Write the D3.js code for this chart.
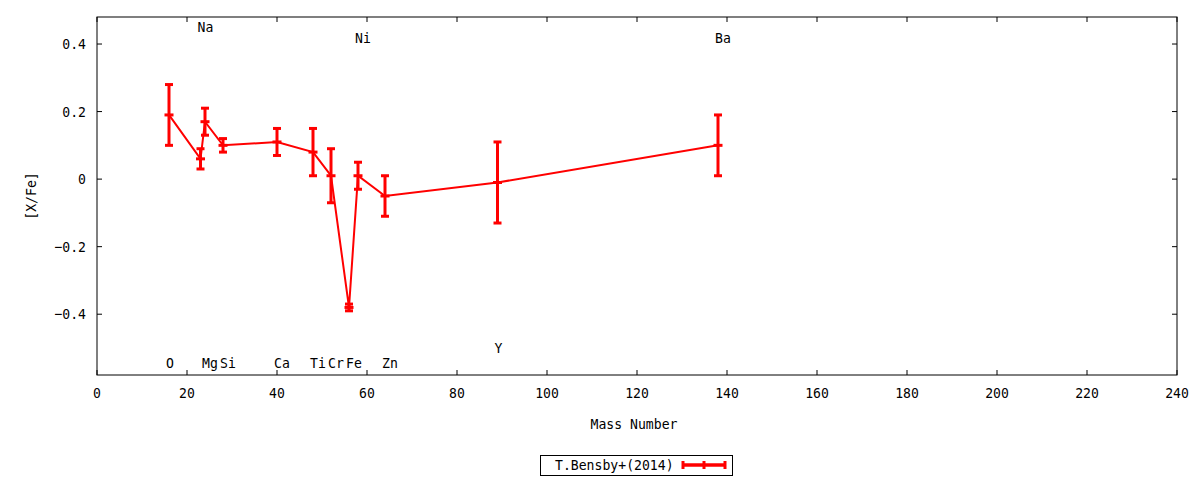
<!DOCTYPE html>
<html><head><meta charset="utf-8">
<script src="https://cdn.jsdelivr.net/npm/d3@7/dist/d3.min.js"></script>
<style>
html,body{margin:0;padding:0;background:#fff;}
text{font-family:"DejaVu Sans Mono",monospace;font-size:14.6px;fill:#000;}
</style></head>
<body>
<svg id="c" width="1200" height="480"></svg>
<script>
const elements = ["O","Na","Mg","Si","Ca","Ti","Cr","Fe","Ni","Zn","Y","Ba"];
const mass     = [16, 23, 24, 28, 40, 48, 52, 56, 58, 64, 89, 138];
const xfe      = [0.19, 0.06, 0.17, 0.10, 0.11, 0.08, 0.01, -0.38, 0.01, -0.05, -0.01, 0.10];
const err      = [0.09, 0.03, 0.04, 0.02, 0.04, 0.07, 0.08, 0.01, 0.04, 0.06, 0.12, 0.09];
const labelY   = [-0.545, 0.45, -0.545, -0.545, -0.545, -0.545, -0.545, -0.545, 0.42, -0.545, -0.50, 0.42];
const xTicks = [0,20,40,60,80,100,120,140,160,180,200,220,240];
const yTicks = [-0.4,-0.2,0,0.2,0.4];
const seriesName = "T.Bensby+(2014)";

const svg = d3.select("#c");
const L=97, R=1177, T=17, B=375;
const x = d3.scaleLinear().domain([0,240]).range([L,R]);
const y = d3.scaleLinear().domain([-0.58,0.48]).range([B,T]);
const red = "#ff0000";
const tick = 5;
const SX = 0.9;

function txt(px, py, s, anchor, rot){
  return svg.append("text")
    .attr("transform", `translate(${px},${py})` + (rot?` rotate(${rot})`:"") + ` scale(${SX},1)`)
    .attr("text-anchor", anchor||"start")
    .attr("dominant-baseline","central")
    .text(s);
}

// frame
svg.append("rect").attr("x",L).attr("y",T).attr("width",R-L).attr("height",B-T)
  .attr("fill","none").attr("stroke","#000").attr("stroke-width",1);

// ticks (mirrored, inward)
const g = svg.append("g").attr("stroke","#000").attr("stroke-width",1);
xTicks.forEach(v=>{
  g.append("line").attr("x1",x(v)).attr("x2",x(v)).attr("y1",B).attr("y2",B-tick);
  g.append("line").attr("x1",x(v)).attr("x2",x(v)).attr("y1",T).attr("y2",T+tick);
});
yTicks.forEach(v=>{
  g.append("line").attr("x1",L).attr("x2",L+tick).attr("y1",y(v)).attr("y2",y(v));
  g.append("line").attr("x1",R).attr("x2",R-tick).attr("y1",y(v)).attr("y2",y(v));
});
xTicks.forEach(v=>{ txt(x(v), 393, String(v), "middle"); });
yTicks.forEach(v=>{ txt(86, y(v), v===0?"0":d3.format(".1f")(v), "end"); });

// axis titles
txt(634, 424, "Mass Number", "middle");
txt(31, 196, "[X/Fe]", "middle", -90);

// data line
const pts = mass.map((m,i)=>[m,xfe[i]]);
svg.append("path").datum(pts)
  .attr("d", d3.line().x(d=>x(d[0])).y(d=>y(d[1])))
  .attr("fill","none").attr("stroke",red).attr("stroke-width",2);

// error bars
const eb = svg.append("g").attr("stroke",red).attr("stroke-width",3);
mass.forEach((m,i)=>{
  const cx=x(m), y1=y(xfe[i]+err[i]), y0=y(xfe[i]-err[i]), cy=y(xfe[i]);
  eb.append("line").attr("x1",cx).attr("x2",cx).attr("y1",y1).attr("y2",y0);
  eb.append("line").attr("x1",cx-4).attr("x2",cx+4).attr("y1",y1).attr("y2",y1);
  eb.append("line").attr("x1",cx-4).attr("x2",cx+4).attr("y1",y0).attr("y2",y0);
  eb.append("line").attr("x1",cx-4.5).attr("x2",cx+4.5).attr("y1",cy).attr("y2",cy);
});

// element labels
elements.forEach((e,i)=>{ txt(x(mass[i])-3, y(labelY[i]), e, "start"); });

// legend
svg.append("rect").attr("x",540.5).attr("y",455.5).attr("width",192).attr("height",20)
  .attr("fill","#fff").attr("stroke","#000").attr("stroke-width",1);
txt(555, 465, seriesName, "start");
const lg = svg.append("g").attr("stroke",red).attr("stroke-width",3.5);
lg.append("line").attr("x1",682).attr("x2",726).attr("y1",465).attr("y2",465);
lg.append("line").attr("x1",683).attr("x2",683).attr("y1",461).attr("y2",469).attr("stroke-width",3);
lg.append("line").attr("x1",725).attr("x2",725).attr("y1",461).attr("y2",469).attr("stroke-width",3);
lg.append("line").attr("x1",704).attr("x2",704).attr("y1",461).attr("y2",469).attr("stroke-width",3);
</script>
</body></html>
